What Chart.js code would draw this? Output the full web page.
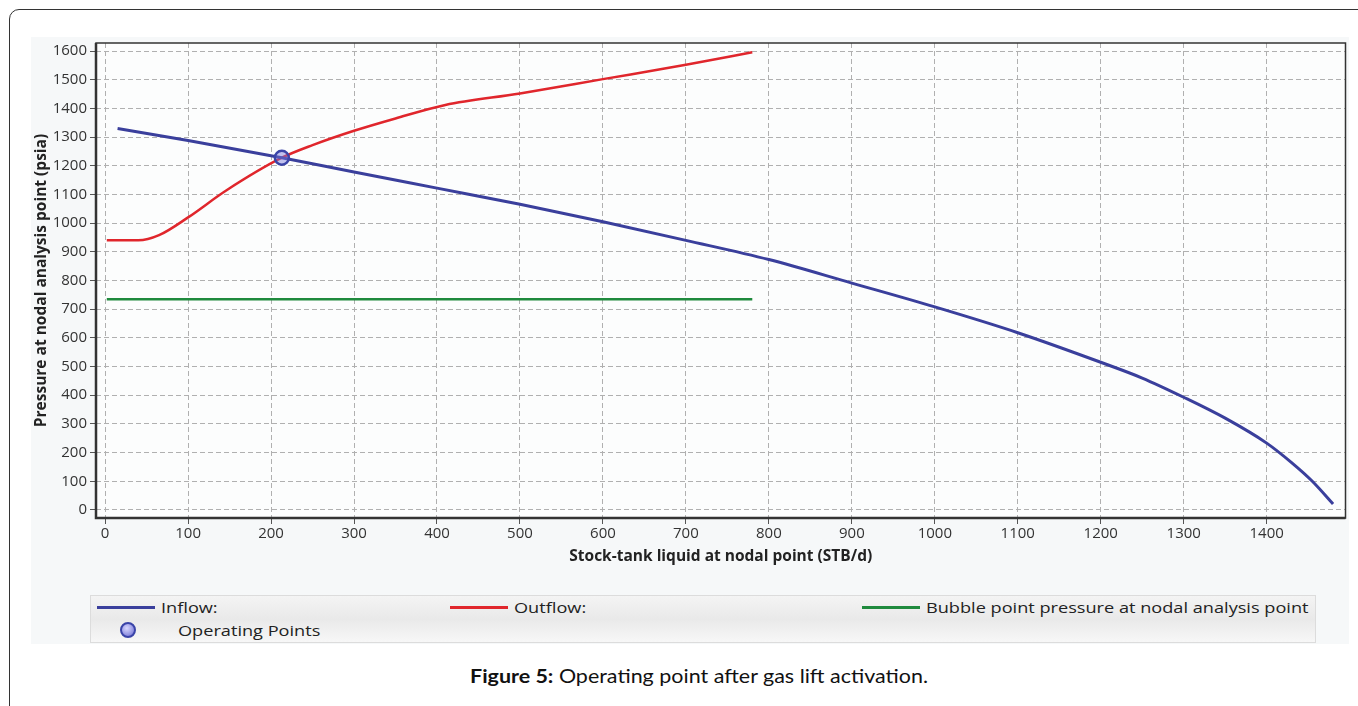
<!DOCTYPE html>
<html>
<head>
<meta charset="utf-8">
<script src="https://cdn.jsdelivr.net/npm/chart.js@4.4.1/dist/chart.umd.min.js"></script>
<style>
  body { margin: 0; background: #fff; width: 1358px; height: 706px; overflow: hidden; position: relative; font-family: "Open Sans", sans-serif; }
  #frame { position: absolute; left: 9px; top: 9px; width: 1400px; height: 760px; border: 1px solid #333; border-radius: 10px; }
  #panel { position: absolute; left: 31px; top: 37px; width: 1318px; height: 607px; background: #f6f8f9; }
  #wrap { position: absolute; left: 20px; top: 30px; width: 1335px; height: 545px; }
  #legend { position: absolute; left: 90px; top: 595px; width: 1224px; height: 46px; border: 1px solid #dcdcdc;
            background: linear-gradient(#f4f4f4, #e9e9e9 50%, #f7f7f7); font-size: 15px; color: #222; }
  .item { position: absolute; display: flex; align-items: center; height: 20px; }
  .swatch { width: 58px; height: 3px; margin-right: 6px; }
  .txt { display: inline-block; transform: scaleX(1.21); transform-origin: left center; white-space: nowrap; }
  #caption { position: absolute; left: 470px; top: 664px; font-family: Lato, sans-serif; font-size: 19px; color: #111;
             transform: scaleX(1.13); transform-origin: left center; white-space: nowrap; }
</style>
</head>
<body>
<div id="frame"></div>
<div id="panel"></div>
<div id="wrap"><canvas id="myChart"></canvas></div>
<div id="legend">
  <div class="item" style="left:6px; top:1px;"><div class="swatch" style="background:#3a3f9c"></div><span class="txt">Inflow:</span></div>
  <div class="item" style="left:359px; top:1px;"><div class="swatch" style="background:#e0262c"></div><span class="txt">Outflow:</span></div>
  <div class="item" style="left:771px; top:1px;"><div class="swatch" style="background:#1f8a3d"></div><span class="txt">Bubble point pressure at nodal analysis point</span></div>
  <div class="item" style="left:29px; top:24px;">
    <div style="width:12px;height:12px;border-radius:50%;border:2px solid #3a44a8;background:radial-gradient(circle at 40% 35%, #d8d8ff, #6a6ad0);margin-right:42px;"></div><span class="txt">Operating Points</span></div>
</div>
<div id="caption"><b>Figure 5:</b> Operating point after gas lift activation.</div>
<script>
const inflowX = [15, 100, 213, 300, 400, 500, 600, 700, 800, 900, 1000, 1100, 1200, 1250, 1300, 1350, 1400, 1430, 1455, 1480]
const inflowY = [1330, 1288, 1228, 1178, 1122, 1066, 1005, 940, 873, 791, 708, 618, 515, 460, 393, 320, 233, 165, 100, 21]
const outflowX = [2, 40, 65, 100, 145, 213, 250, 300, 350, 410, 500, 600, 700, 780]
const outflowY = [940, 940, 958, 1020, 1112, 1228, 1272, 1322, 1365, 1412, 1452, 1502, 1552, 1596]
const bubbleX = [2, 780]
const bubbleY = [735, 735]
const operatingX = [213]
const operatingY = [1228]
const xTicks = [0, 100, 200, 300, 400, 500, 600, 700, 800, 900, 1000, 1100, 1200, 1300, 1400]
const yTicks = [0, 100, 200, 300, 400, 500, 600, 700, 800, 900, 1000, 1100, 1200, 1300, 1400, 1500, 1600]

const toPoints = (xs, ys) => xs.map((x, i) => ({ x: x, y: ys[i] }))

const plotFrame = {
    id: 'plotFrame',
    beforeDraw(chart) {
        const a = chart.chartArea, c = chart.ctx
        c.save()
        c.fillStyle = '#fcfdfd'
        c.fillRect(a.left, a.top, a.right - a.left, a.bottom - a.top)
        c.restore()
    },
    afterDatasetsDraw(chart) {
        const a = chart.chartArea, c = chart.ctx
        c.save()
        c.strokeStyle = '#333'
        c.lineWidth = 1.5
        c.strokeRect(a.left, a.top, a.right - a.left, a.bottom - a.top)
        c.lineWidth = 2.5
        c.beginPath()
        c.moveTo(a.left, a.top); c.lineTo(a.left, a.bottom); c.lineTo(a.right, a.bottom)
        c.stroke()
        c.restore()
    }
}

const ctx = document.getElementById('myChart')
Chart.defaults.font.family = '"Open Sans", sans-serif'
Chart.defaults.color = '#333'

const gridStyle = { color: '#b0b0b0', tickLength: 6, tickColor: '#555', tickBorderDash: [], tickWidth: 1 }

new Chart(ctx, {
    type: 'scatter',
    plugins: [plotFrame],
    data: {
        datasets: [
            {
                label: 'Operating Points',
                data: toPoints(operatingX, operatingY),
                pointRadius: 7,
                pointBorderWidth: 2.5,
                pointBorderColor: '#3a44a8',
                pointBackgroundColor: 'rgba(120, 120, 220, 0.45)',
                showLine: false,
            },
            {
                label: 'Inflow:',
                data: toPoints(inflowX, inflowY),
                showLine: true,
                borderColor: '#3a3f9c',
                borderWidth: 3,
                pointRadius: 0,
                cubicInterpolationMode: 'monotone',
            },
            {
                label: 'Outflow:',
                data: toPoints(outflowX, outflowY),
                showLine: true,
                borderColor: '#e0262c',
                borderWidth: 2.5,
                pointRadius: 0,
                cubicInterpolationMode: 'monotone',
            },
            {
                label: 'Bubble point pressure at nodal analysis point',
                data: toPoints(bubbleX, bubbleY),
                showLine: true,
                borderColor: '#1f8a3d',
                borderWidth: 2.5,
                pointRadius: 0,
            },
        ]
    },
    options: {
        responsive: true,
        maintainAspectRatio: false,
        animation: false,
        layout: { padding: { top: 13, right: 9, left: 0, bottom: 9 } },
        plugins: {
            legend: { display: false },
            tooltip: { enabled: false },
        },
        scales: {
            x: {
                type: 'linear',
                min: -11,
                max: 1495,
                afterFit: scale => { scale.height = 48 },
                afterBuildTicks: scale => { scale.ticks = xTicks.map(v => ({ value: v })) },
                ticks: { font: { size: 15 }, color: '#333', padding: 1, callback: v => String(v) },
                grid: gridStyle,
                border: { display: false, dash: [5, 3] },
                title: { display: true, text: 'Stock-tank liquid at nodal point (STB/d)', font: { size: 15.5, weight: 'bold' }, color: '#222', padding: { top: 0, bottom: 0 } },
            },
            y: {
                min: -28,
                max: 1628,
                afterFit: scale => { scale.width = 76 },
                afterBuildTicks: scale => { scale.ticks = yTicks.map(v => ({ value: v })) },
                ticks: { font: { size: 15 }, color: '#333', padding: 3, callback: v => String(v) },
                grid: gridStyle,
                border: { display: false, dash: [5, 3] },
                title: { display: true, text: 'Pressure at nodal analysis point (psia)', font: { size: 15.5, weight: 'bold' }, color: '#222', padding: { top: 12, bottom: 0 } },
            }
        }
    }
})
</script>
</body>
</html>
